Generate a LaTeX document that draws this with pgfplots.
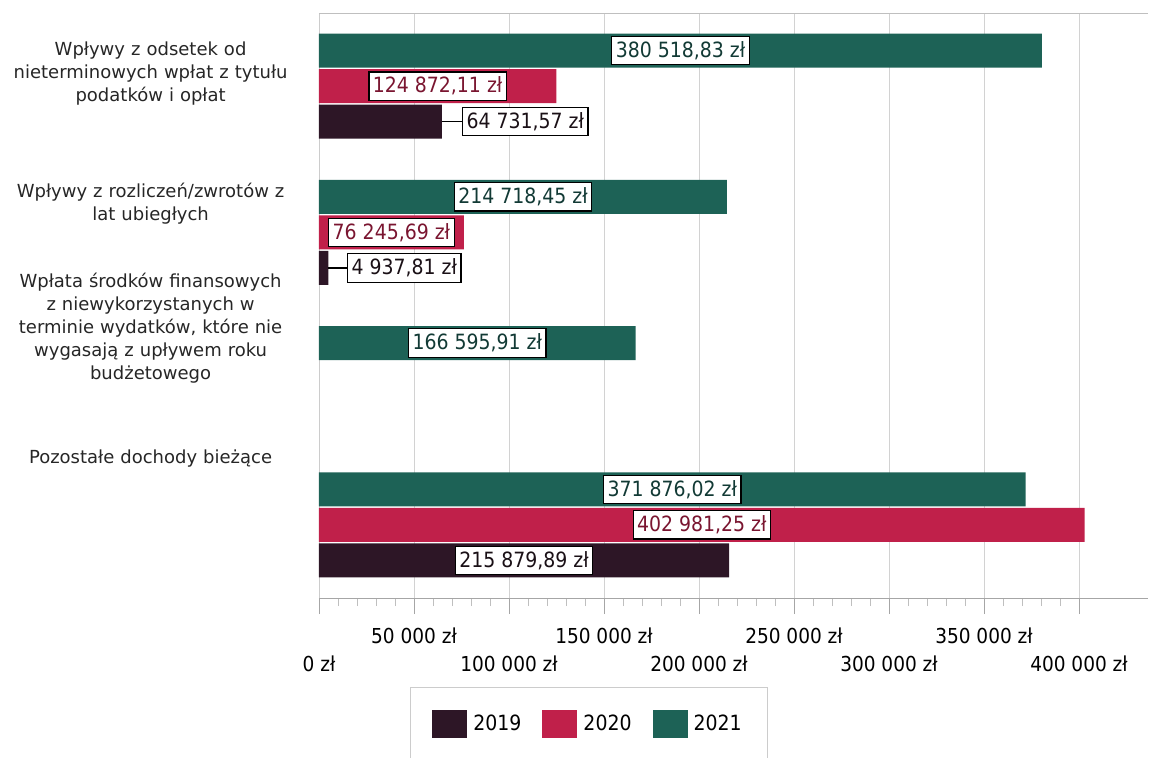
\documentclass[border=0pt]{standalone}
\usepackage{fontspec}
\setmainfont{DejaVu Sans}
\newfontfamily\cond{DejaVu Sans Condensed}
\usepackage{pgfplots}
\pgfplotsset{compat=1.18}
\definecolor{c19}{HTML}{2D1626}
\definecolor{c20}{HTML}{C0204A}
\definecolor{c21}{HTML}{1D6256}
\definecolor{t19}{HTML}{1A1016}
\definecolor{t20}{HTML}{7A1530}
\definecolor{t21}{HTML}{123A35}
\pgfplotsset{
  mylegend/.style={legend image code/.code={\fill[##1] (0pt,-7pt) rectangle (17.5pt,7pt);}},
  lab/.style={forget plot, draw=none, mark=none, nodes near coords, point meta=explicit symbolic,
    every node near coord/.style={anchor=center, fill=white, draw=black, line width=0.6pt,
      text=#1, font=\cond\fontsize{10.5}{12}\selectfont, inner xsep=2pt, inner ysep=2.5pt}},
  labw/.style={forget plot, draw=none, mark=none, nodes near coords, point meta=explicit symbolic,
    every node near coord/.style={anchor=west, fill=white, draw=black, line width=0.6pt,
      text=#1, font=\cond\fontsize{10.5}{12}\selectfont, inner xsep=2pt, inner ysep=2.5pt}},
}
\begin{document}
\begin{tikzpicture}
\path[use as bounding box] (-159.5pt,-79.5pt) rectangle (416pt,299pt);
\begin{axis}[
  at={(0,0)}, anchor=south west,
  scale only axis, width=414.5pt, height=292.5pt,
  xmin=0, xmax=436316, ymin=-0.5, ymax=3.5,
  scaled x ticks=false,
  axis x line*=bottom, axis y line*=left,
  x axis line style={gray!70, -}, y axis line style={gray!40, -},
  xtick={0,100000,200000,300000,400000},
  xticklabels={0 zł,100 000 zł,200 000 zł,300 000 zł,400 000 zł},
  extra x ticks={50000,150000,250000,350000},
  extra x tick labels={50 000 zł,150 000 zł,250 000 zł,350 000 zł},
  extra x tick style={grid=major, xticklabel style={yshift=14pt}},
  xmajorgrids, major grid style={gray!35, thin},
  tick align=outside, major tick length=8pt, minor tick length=4pt,
  minor x tick num=9,
  x tick style={gray!70}, minor x tick style={gray!50},
  xticklabel style={font=\cond\fontsize{10.3}{12}\selectfont, anchor=center, yshift=-25pt},
  ytick={0.452,1.342,2.199,3.089},
  yticklabels={
    {Pozostałe dochody bieżące},
    {Wpłata środków finansowych\\z niewykorzystanych w\\terminie wydatków, które nie\\wygasają z upływem roku\\budżetowego},
    {Wpływy z rozliczeń/zwrotów z\\lat ubiegłych},
    {Wpływy z odsetek od\\nieterminowych wpłat z tytułu\\podatków i opłat}},
  y tick style={draw=none},
  yticklabel style={align=center, text width=142pt, inner sep=0pt, xshift=-5pt,
    font=\fontsize{9}{11.5}\selectfont, text=black!85},
  extra y ticks={3.5}, extra y tick labels={},
  extra y tick style={grid=major, major grid style={gray!50}},
  legend style={at={(0.1098,-0.152)}, anchor=north west, draw=gray!40, legend columns=-1,
    font=\cond\fontsize{10.5}{12}\selectfont, inner xsep=11pt, inner ysep=11.5pt,
    /tikz/every even column/.append style={column sep=8.5pt},
    /tikz/every odd column/.append style={column sep=1pt}},
]
\addplot[xbar, bar width=17pt, bar shift=0pt, fill=c19, draw=none, mylegend]
  coordinates {(64731.57,2.757) (4937.81,1.757) (215879.89,-0.243)};
\addplot[xbar, bar width=17pt, bar shift=0pt, fill=c20, draw=none, mylegend]
  coordinates {(124872.11,3) (76245.69,2) (402981.25,0)};
\addplot[xbar, bar width=17pt, bar shift=0pt, fill=c21, draw=none, mylegend]
  coordinates {(380518.83,3.243) (214718.45,2.243) (166595.91,1.243) (371876.02,0.243)};
\legend{2019,2020,2021}
% leader lines
\addplot[forget plot, black, line width=0.6pt] coordinates {(64731.57,2.757) (75263,2.757)};
\addplot[forget plot, black, line width=0.6pt] coordinates {(4937.81,1.757) (14737,1.757)};
% labels
\addplot[lab=t21] coordinates {(190259.4,3.243) [380 518,83 zł] (107359.2,2.243) [214 718,45 zł] (83297.96,1.243) [166 595,91 zł] (185938.0,0.243) [371 876,02 zł]};
\addplot[lab=t20] coordinates {(62436.06,3) [124 872,11 zł] (38122.8,2) [76 245,69 zł] (201490.6,0) [402 981,25 zł]};
\addplot[lab=t19] coordinates {(107939.9,-0.243) [215 879,89 zł]};
\addplot[labw=t19] coordinates {(75263,2.757) [64 731,57 zł] (14737,1.757) [4 937,81 zł]};
\end{axis}
\end{tikzpicture}
\end{document}
